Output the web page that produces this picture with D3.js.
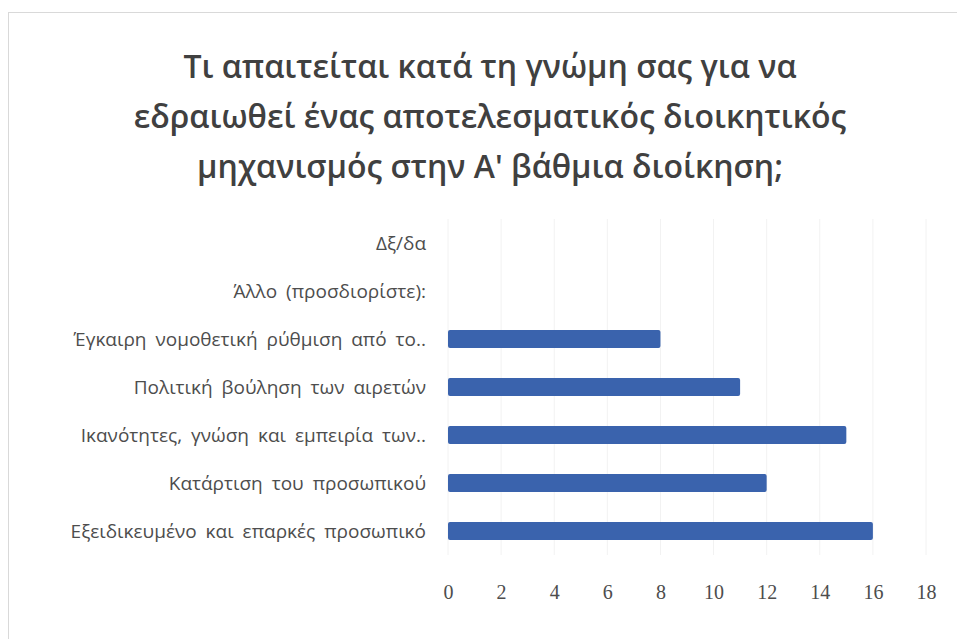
<!DOCTYPE html>
<html>
<head>
<meta charset="utf-8">
<script src="https://cdn.jsdelivr.net/npm/d3@7"></script>
<style>
  body { margin: 0; background: #fff; }
  text { font-family: "Open Sans", "Noto Sans", sans-serif; }
</style>
</head>
<body>
<div id="chart"></div>
<script>
// data (top to bottom)
const categories = [
  "Δξ/δα",
  "Άλλο (προσδιορίστε):",
  "Έγκαιρη νομοθετική ρύθμιση από το..",
  "Πολιτική βούληση των αιρετών",
  "Ικανότητες, γνώση και εμπειρία των..",
  "Κατάρτιση του προσωπικού",
  "Εξειδικευμένο και επαρκές προσωπικό"
];
const values = [0, 0, 8, 11, 15, 12, 16];
const xTicks = [0, 2, 4, 6, 8, 10, 12, 14, 16, 18];
const titleLines = [
  "Τι απαιτείται κατά τη γνώμη σας για να",
  "εδραιωθεί ένας αποτελεσματικός διοικητικός",
  "μηχανισμός στην Α' βάθμια διοίκηση;"
];

const width = 957, height = 639;
const svg = d3.select("#chart").append("svg")
  .attr("width", width).attr("height", height);

// chart frame
svg.append("rect")
  .attr("x", 8.5).attr("y", 12.5)
  .attr("width", width).attr("height", height)
  .attr("fill", "#fff").attr("stroke", "#d9d9d9");

const x = d3.scaleLinear().domain([0, 18]).range([448, 926]);
const y = d3.scaleBand().domain(categories).range([219, 555]).paddingInner(0.62).paddingOuter(0.31);

// faint grid
svg.append("g").selectAll("line").data(xTicks).join("line")
  .attr("x1", d => x(d)).attr("x2", d => x(d))
  .attr("y1", 219).attr("y2", 555)
  .attr("stroke", "#f2f2f2");

// title
svg.append("g").selectAll("text").data(titleLines).join("text")
  .attr("x", 490).attr("y", (d, i) => 78 + i * 50)
  .attr("text-anchor", "middle")
  .attr("font-size", 32)
  .attr("font-weight", 600)
  .attr("fill", "#404040")
  .text(d => d);

// bars
svg.append("g").selectAll("rect").data(values).join("rect")
  .attr("x", x(0))
  .attr("y", (d, i) => y(categories[i]))
  .attr("width", d => x(d) - x(0))
  .attr("height", y.bandwidth())
  .attr("rx", 2)
  .attr("fill", "#3a63ad");

// category labels
svg.append("g").selectAll("text").data(categories).join("text")
  .attr("x", 426)
  .attr("y", d => y(d) + y.bandwidth() / 2)
  .attr("dy", "0.35em")
  .attr("text-anchor", "end")
  .attr("font-size", 19)
  .attr("word-spacing", 4)
  .attr("fill", "#4d4d4d")
  .text(d => d);

// x axis labels
const xAxis = d3.axisBottom(x).tickValues(xTicks).tickSize(0).tickPadding(0);
const gx = svg.append("g").attr("transform", "translate(0,585)").call(xAxis);
gx.select(".domain").remove();
gx.selectAll("text")
  .style("font-size", "20px")
  .style("font-family", "\"Liberation Serif\", serif")
  .attr("fill", "#4d4d4d");
</script>
</body>
</html>
